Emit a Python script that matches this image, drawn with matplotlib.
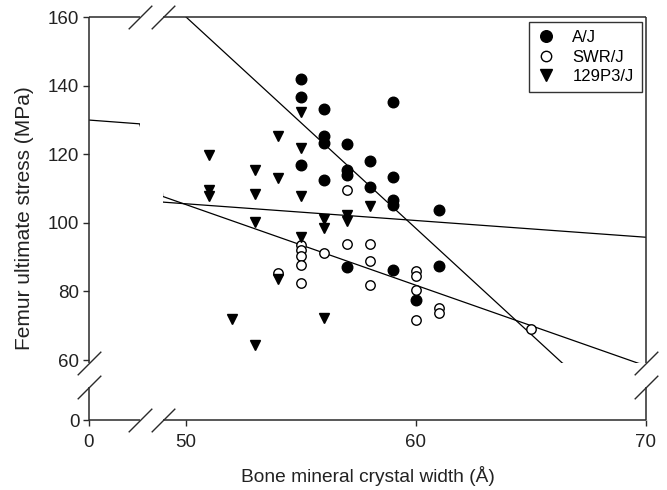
import numpy as np
import matplotlib
matplotlib.use('Agg')
import matplotlib.pyplot as plt

plt.rcParams['font.family'] = ['Liberation Sans', 'DejaVu Sans']

# ---------------- data ----------------
aj_x = [55, 55, 55, 56, 56, 56, 56, 57, 57, 57, 57, 58, 58, 59, 59, 59, 59, 59, 60, 61, 61]
aj_y = [142.0, 136.8, 116.9, 133.2, 125.2, 123.3, 112.5, 123.0, 115.5, 114.0, 87.0,
        118.1, 110.4, 135.3, 113.3, 106.7, 105.3, 86.3, 77.6, 103.6, 87.3]

swr_x = [54, 55, 55, 55, 55, 55, 56, 57, 57, 58, 58, 58, 60, 60, 60, 60, 61, 61, 65]
swr_y = [85.5, 93.6, 92.2, 90.2, 87.8, 82.6, 91.3, 109.6, 93.7, 93.9, 88.8, 82.0,
         86.1, 84.6, 80.5, 71.8, 75.2, 73.7, 69.1]

p129_x = [51, 51, 51, 52, 53, 53, 53, 53, 54, 54, 54, 55, 55, 55, 55, 56, 56, 56, 57, 57, 58]
p129_y = [119.8, 109.6, 107.9, 72.0, 115.5, 108.5, 100.1, 64.5, 125.2, 113.0, 83.5,
          132.3, 121.8, 107.8, 95.9, 101.2, 98.6, 72.3, 102.4, 100.4, 104.8]

# regression lines: (intercept, slope)
fit_aj = (468.6, -6.17)
fit_swr = (223.1, -2.355)
fit_129 = (129.96, -0.488)

labels = ['A/J', 'SWR/J', '129P3/J']
x_ticks = [0, 50, 60, 70]
y_ticks = [0, 60, 80, 100, 120, 140, 160]

# broken axis segments
x_segments = [(0, 2.2), (49, 70)]
y_segments = [(0, 9.75), (59, 160)]
x_gap = 1.0
y_gap = 6.72

# ---------------- scales ----------------
def make_scale(lo_end, hi_start, gap):
    d = [-1000.0, lo_end, hi_start, 1000.0]
    p = [-1000.0, lo_end, lo_end + gap, 1000.0 - hi_start + lo_end + gap]
    def fwd(v):
        return np.interp(v, d, p)
    def inv(v):
        return np.interp(v, p, d)
    return fwd, inv

fig = plt.figure(figsize=(6.67, 4.9), dpi=100)
ax = fig.add_axes([89 / 667, 70 / 490, 557 / 667, 403 / 490])
ax.set_xscale('function', functions=make_scale(x_segments[0][1], x_segments[1][0], x_gap))
ax.set_yscale('function', functions=make_scale(y_segments[0][1], y_segments[1][0], y_gap))
ax.set_xlim(x_segments[0][0], x_segments[1][1])
ax.set_ylim(y_segments[0][0], y_segments[1][1])

frame_c = '#2a2a2a'
for s in ax.spines.values():
    s.set_visible(False)

# frame segments
for (a, b) in x_segments:
    for yy in (y_segments[0][0], y_segments[1][1]):
        ax.plot([a, b], [yy, yy], color=frame_c, lw=1.1, clip_on=False,
                solid_capstyle='butt', zorder=5)
for (a, b) in y_segments:
    for xx in (x_segments[0][0], x_segments[1][1]):
        ax.plot([xx, xx], [a, b], color=frame_c, lw=1.1, clip_on=False,
                solid_capstyle='butt', zorder=5)

# break marks
slash = [(-1, -1), (1, 1)]
bx = [x_segments[0][1], x_segments[1][0]]
for yy in (y_segments[0][0], y_segments[1][1]):
    ax.plot(bx, [yy, yy], ls='none', marker=slash, ms=17, mec=frame_c, mew=1.0,
            clip_on=False, zorder=6)
by = [y_segments[0][1], y_segments[1][0]]
for xx in (x_segments[0][0], x_segments[1][1]):
    ax.plot([xx, xx], by, ls='none', marker=slash, ms=17, mec=frame_c, mew=1.0,
            clip_on=False, zorder=6)

# regression lines, clipped to the upper panels
xs = np.linspace(0, 70, 3000)
panels = []
for (a, b) in x_segments:
    r = plt.Rectangle((a, y_segments[1][0]), b - a, y_segments[1][1] - y_segments[1][0],
                      transform=ax.transData, fill=False, visible=False)
    ax.add_patch(r)
    panels.append(r)
for (c0, c1) in (fit_aj, fit_swr, fit_129):
    for r in panels:
        ln, = ax.plot(xs, c0 + c1 * xs, color='black', lw=0.9, zorder=2)
        ln.set_clip_path(r)

# points
ax.plot(aj_x, aj_y, ls='none', marker='o', ms=7.6, mfc='black', mec='black',
        label=labels[0], zorder=3)
ax.plot(swr_x, swr_y, ls='none', marker='o', ms=6.8, mfc='white', mec='black', mew=1.0,
        label=labels[1], zorder=3)
ax.plot(p129_x, p129_y, ls='none', marker='v', ms=7.6, mfc='black', mec='black',
        label=labels[2], zorder=3)

ax.set_xticks(x_ticks)
ax.set_xticklabels([str(t) for t in x_ticks])
ax.set_yticks(y_ticks)
ax.set_yticklabels([str(t) for t in y_ticks])
ax.minorticks_off()
ax.tick_params(direction='out', length=4, width=1.0, color=frame_c, labelsize=13.5,
               labelcolor='#222222')
ax.tick_params(axis='x', pad=6)
ax.tick_params(axis='y', pad=3)

ax.set_xlabel('Bone mineral crystal width (Å)', fontsize=13.8, color='#222222')
ax.xaxis.set_label_coords(0.5, (420 - 466) / 403, transform=ax.transAxes)
ax.set_ylabel('Femur ultimate stress (MPa)', fontsize=15, color='#222222')
ax.yaxis.set_label_coords((34 - 89) / 557, 0.5, transform=ax.transAxes)

leg = ax.legend(loc='upper right', bbox_to_anchor=((642 - 89) / 557, (420 - 22) / 403),
                borderaxespad=0, fontsize=12, frameon=True, fancybox=False,
                framealpha=1, edgecolor='#333333', handlelength=1.13, handletextpad=1.0,
                borderpad=0.5, labelspacing=0.26, numpoints=1, markerscale=1.1)
leg.get_frame().set_linewidth(1.0)

fig.savefig('out.png', dpi=100)
